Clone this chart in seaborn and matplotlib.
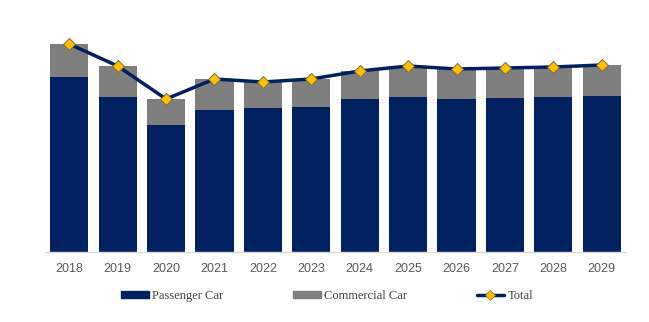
import matplotlib
matplotlib.use("Agg")
import matplotlib.pyplot as plt
import seaborn as sns
import pandas as pd
from matplotlib.patches import Patch
from matplotlib.lines import Line2D

years = ["2018", "2019", "2020", "2021", "2022", "2023", "2024", "2025", "2026", "2027", "2028", "2029"]
passenger = [175, 155, 127, 142, 144, 145, 153, 155, 153, 154, 155, 156]
commercial = [33, 31, 26, 31, 26, 28, 28, 31, 30, 30, 30, 31]
total = [p + c for p, c in zip(passenger, commercial)]

NAVY = "#002060"
GRAY = "#7F7F7F"
GOLD = "#FFC000"

sns.set_theme(style="white")
plt.rcParams["font.family"] = ["Liberation Sans", "DejaVu Sans"]

df = pd.DataFrame({"year": years, "passenger": passenger, "total": total})

fig = plt.figure(figsize=(6.49, 3.22), dpi=100)
ax = fig.add_axes([45 / 649, 70 / 322, 581 / 649, 232 / 322])

sns.barplot(data=df, x="year", y="total", color=GRAY, saturation=1, width=0.79,
            edgecolor="none", linewidth=0, ax=ax)
sns.barplot(data=df, x="year", y="passenger", color=NAVY, saturation=1, width=0.79,
            edgecolor="none", linewidth=0, ax=ax)
ax.plot(range(len(years)), total, color=NAVY, lw=2.5, marker="D", markersize=6.5,
        markerfacecolor=GOLD, markeredgecolor="#7f6a3a", markeredgewidth=0.7, zorder=5)

ax.set_xlim(-0.5, len(years) - 0.5)
ax.set_ylim(0, 232)
ax.set_xlabel("")
ax.set_ylabel("")
ax.set_yticks([])
for s in ["top", "right", "left"]:
    ax.spines[s].set_visible(False)
ax.spines["bottom"].set_color("#D9D9D9")
ax.spines["bottom"].set_linewidth(1)
ax.tick_params(axis="x", length=0, pad=8, labelsize=9, labelcolor="#595959")

handles = [Patch(facecolor=NAVY, edgecolor=NAVY),
           Patch(facecolor=GRAY, edgecolor=GRAY),
           Line2D([0], [0], color=NAVY, lw=2.5, marker="D", markersize=5,
                  markerfacecolor=GOLD, markeredgecolor="#7f6a3a", markeredgewidth=0.5)]
labels = ["Passenger Car", "Commercial Car", "Total"]
leg = fig.legend(handles, labels, loc="center", bbox_to_anchor=(0.504, 26 / 322), ncol=3,
                 frameon=False, handlelength=2.2, handleheight=0.45, handletextpad=0.25,
                 columnspacing=5.6, prop={"family": "Liberation Serif", "size": 9})
for t in leg.get_texts():
    t.set_color("#404040")

fig.savefig("out.png", dpi=100)
